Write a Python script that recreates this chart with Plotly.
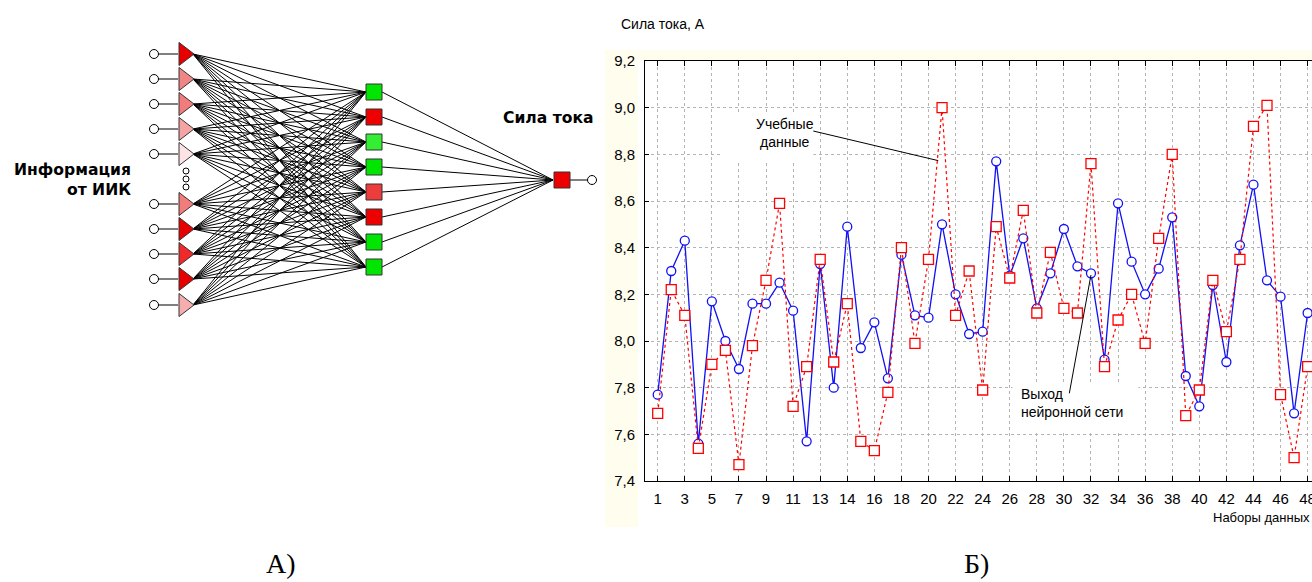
import plotly.graph_objects as go

# ---------------- data (chart Б) ----------------
data_sets = list(range(1, 50))
x_tick_labels = ["1", "3", "5", "7", "9", "11", "13", "14", "16", "18", "20", "22", "24",
                 "26", "28", "30", "32", "34", "36", "38", "40", "42", "44", "46", "48"]
network_output = [7.77, 8.30, 8.43, 7.56, 8.17, 8.00, 7.88, 8.16, 8.16, 8.25,
                  8.13, 7.57, 8.33, 7.80, 8.49, 7.97, 8.08, 7.84, 8.37, 8.11,
                  8.10, 8.50, 8.20, 8.03, 8.04, 8.77, 8.28, 8.44, 8.14, 8.29,
                  8.48, 8.32, 8.29, 7.92, 8.59, 8.34, 8.20, 8.31, 8.53, 7.85,
                  7.72, 8.24, 7.91, 8.41, 8.67, 8.26, 8.19, 7.69, 8.12]
training_data = [7.69, 8.22, 8.11, 7.54, 7.90, 7.96, 7.47, 7.98, 8.26, 8.59,
                 7.72, 7.89, 8.35, 7.91, 8.16, 7.57, 7.53, 7.78, 8.40, 7.99,
                 8.35, 9.00, 8.11, 8.30, 7.79, 8.49, 8.27, 8.56, 8.12, 8.38,
                 8.14, 8.12, 8.76, 7.89, 8.09, 8.20, 7.99, 8.44, 8.80, 7.68,
                 7.79, 8.26, 8.04, 8.35, 8.92, 9.01, 7.77, 7.50, 7.89]
y_ticks = [7.4, 7.6, 7.8, 8.0, 8.2, 8.4, 8.6, 8.8, 9.0, 9.2]
y_tick_labels = ["7,4", "7,6", "7,8", "8,0", "8,2", "8,4", "8,6", "8,8", "9,0", "9,2"]

# ---------------- schematic (diagram А) ----------------
input_y = [54, 79, 104, 129, 154, 204, 229, 254, 279, 305]
input_colors = ["#E60000", "#F08585", "#F07C7C", "#F5A3A3", "#FDE3E3",
                "#F07C7C", "#E60000", "#F02A2A", "#E60000", "#F5ADAD"]
hidden_y = [92, 117, 142, 167, 192, 217, 242, 267]
hidden_colors = ["#00E600", "#EE0000", "#33EE33", "#00E600",
                 "#EE3B3B", "#EE0000", "#00E600", "#00E600"]
output_y = 180
dots_y = [171, 179, 187]

W, H = 1312, 582
FONT = "Liberation Sans, Arial, sans-serif"

fig = go.Figure()

# connections
lx, ly = [], []
for yi in input_y:
    lx += [158, 178, None]; ly += [yi, yi, None]
    for yh in hidden_y:
        lx += [193, 366, None]; ly += [yi, yh, None]
for yh in hidden_y:
    lx += [382, 553, None]; ly += [yh, output_y, None]
lx += [570, 588, None]; ly += [output_y, output_y, None]
fig.add_trace(go.Scatter(x=lx, y=ly, mode="lines", xaxis="x2", yaxis="y2",
                         line=dict(color="black", width=1), hoverinfo="skip", showlegend=False))
fig.add_trace(go.Scatter(x=[154] * len(input_y), y=input_y, mode="markers", xaxis="x2", yaxis="y2",
                         marker=dict(symbol="circle", size=9, color="white",
                                     line=dict(color="black", width=1)), showlegend=False))
fig.add_trace(go.Scatter(x=[186] * 3, y=dots_y, mode="markers", xaxis="x2", yaxis="y2",
                         marker=dict(symbol="circle", size=6, color="white",
                                     line=dict(color="black", width=1)), showlegend=False))
fig.add_trace(go.Scatter(x=[184] * len(input_y), y=input_y, mode="markers", xaxis="x2", yaxis="y2",
                         marker=dict(symbol="triangle-right", size=20, color=input_colors,
                                     line=dict(color="#333333", width=1)), showlegend=False))
fig.add_trace(go.Scatter(x=[374] * len(hidden_y), y=hidden_y, mode="markers", xaxis="x2", yaxis="y2",
                         marker=dict(symbol="square", size=16, color=hidden_colors,
                                     line=dict(color="#333333", width=1)), showlegend=False))
fig.add_trace(go.Scatter(x=[562], y=[output_y], mode="markers", xaxis="x2", yaxis="y2",
                         marker=dict(symbol="square", size=16, color="#EE0000",
                                     line=dict(color="#333333", width=1)), showlegend=False))
fig.add_trace(go.Scatter(x=[592], y=[output_y], mode="markers", xaxis="x2", yaxis="y2",
                         marker=dict(symbol="circle", size=9, color="white",
                                     line=dict(color="black", width=1)), showlegend=False))

# ---------------- chart traces ----------------
fig.add_trace(go.Scatter(x=data_sets, y=network_output, mode="lines+markers", name="Выход нейронной сети",
                         line=dict(color="#1010F5", width=1.3),
                         marker=dict(symbol="circle", size=9, color="white",
                                     line=dict(color="#1010F5", width=1.3)),
                         showlegend=False, cliponaxis=True))
fig.add_trace(go.Scatter(x=data_sets, y=training_data, mode="lines+markers", name="Учебные данные",
                         line=dict(color="#FF0000", width=1.2, dash="dot"),
                         marker=dict(symbol="square", size=10, color="white",
                                     line=dict(color="#FF0000", width=1.3)),
                         showlegend=False, cliponaxis=True))

cream = "#FFFDEE"
shapes = [
    dict(type="rect", xref="paper", yref="paper", x0=605 / W, x1=1, y0=1 - 61 / H, y1=1 - 50 / H,
         fillcolor=cream, line=dict(width=0), layer="below"),
    dict(type="rect", xref="paper", yref="paper", x0=605 / W, x1=638 / W, y0=1 - 527 / H, y1=1 - 50 / H,
         fillcolor=cream, line=dict(width=0), layer="below"),
    dict(type="rect", xref="x", yref="y", x0=5.8, x1=12.5, y0=8.77, y1=8.98,
         fillcolor="white", line=dict(width=0), layer="between"),
    dict(type="rect", xref="x", yref="y", x0=27.2, x1=36.5, y0=7.61, y1=7.82,
         fillcolor="white", line=dict(width=0), layer="between"),
    dict(type="line", xref="x", yref="y", x0=12.49, y0=8.90, x1=21.72, y1=8.773,
         line=dict(color="black", width=1), layer="above"),
    dict(type="line", xref="x", yref="y", x0=31.4, y0=7.776, x1=33.0, y1=8.283,
         line=dict(color="black", width=1), layer="above"),
]

ann = []
def txt(x, y, s, size, xanchor="center", family=FONT, bold=False, align="center"):
    t = "<b>" + s + "</b>" if bold else s
    ann.append(dict(x=x, y=y, xref="x2", yref="y2", text=t, showarrow=False, xanchor=xanchor,
                    yanchor="middle", align=align,
                    font=dict(family=family, size=size, color="black")))

DJ = "DejaVu Sans, sans-serif"
txt(133, 180, "Информация<br>от ИИК", 15.6, xanchor="right", family=DJ, bold=True, align="right")
txt(548, 118, "Сила тока", 15.6, family=DJ, bold=True)
txt(619, 24, "Сила тока, А", 14, xanchor="left", align="left")
txt(785, 133, "Учебные<br>данные", 14)
txt(1019, 403, "Выход<br>нейронной сети", 14, xanchor="left", align="left")
txt(1211, 517, "Наборы данных", 13, xanchor="left", align="left")
txt(281, 563, "А)", 28, family="Liberation Serif, Times New Roman, serif")
txt(976, 563, "Б)", 28, family="Liberation Serif, Times New Roman, serif")

x_left = 1 - (657.7 - 645) / 13.54
x_right = 1 + (1312 - 657.7) / 13.54

fig.update_layout(
    template="none",
    width=W, height=H, margin=dict(l=0, r=0, t=0, b=0, pad=0, autoexpand=False),
    paper_bgcolor="white", plot_bgcolor="rgba(0,0,0,0)",
    showlegend=False,
    font=dict(family=FONT, size=14, color="black"),
    xaxis=dict(domain=[645 / W, 1], range=[x_left, x_right], anchor="y", automargin=False,
               tickmode="array", tickvals=data_sets[::2], ticktext=x_tick_labels,
               showgrid=True, gridcolor="#B4B4B4", griddash="dot", gridwidth=1,
               showline=True, linecolor="black", linewidth=1, mirror="ticks",
               ticks="inside", ticklen=5, tickcolor="black", zeroline=False,
               tickfont=dict(size=15), ticklabelstandoff=4, ticklabeloverflow="allow"),
    yaxis=dict(domain=[1 - 481 / H, 1 - 61 / H], range=[7.4, 9.2], anchor="x", automargin=False,
               tickmode="array", tickvals=y_ticks, ticktext=y_tick_labels,
               showgrid=True, gridcolor="#B4B4B4", griddash="dot", gridwidth=1,
               showline=True, linecolor="black", linewidth=1,
               ticks="inside", ticklen=4, tickcolor="black", zeroline=False,
               tickfont=dict(size=15), ticklabelstandoff=6, ticklabeloverflow="allow"),
    xaxis2=dict(domain=[0, 1], range=[0, W], anchor="y2", visible=False, fixedrange=True, automargin=False),
    yaxis2=dict(domain=[0, 1], range=[H, 0], anchor="x2", visible=False, fixedrange=True, automargin=False),
    shapes=shapes, annotations=ann,
)

fig.write_html("out.html", config={"displayModeBar": False},
               post_script="document.body.style.margin='0';document.body.style.overflow='hidden';")
